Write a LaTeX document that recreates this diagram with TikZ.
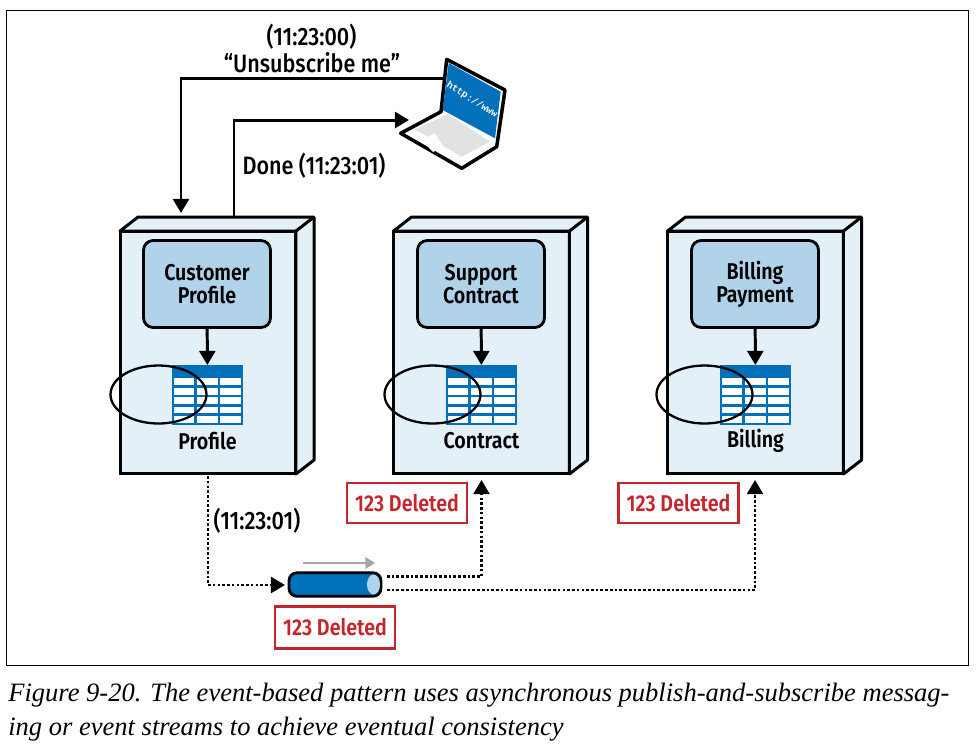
\documentclass[tikz,border=0pt]{standalone}
\usepackage{fontspec}
\setmainfont{Fira Sans}[BoldFont=* SemiBold,BoldFeatures={FakeStretch=0.86}]
\newfontfamily\notefont{Fira Sans Medium}[FakeStretch=0.86]
\newfontfamily\capfont{Liberation Serif}
\newfontfamily\urlfont{Liberation Mono}
\usetikzlibrary{arrows.meta,shapes.geometric}
\definecolor{boxblue}{HTML}{E3F0F8}
\definecolor{modblue}{HTML}{B0D3E9}
\definecolor{dbblue}{HTML}{0070BA}
\definecolor{eventred}{HTML}{C4262E}
\definecolor{kbgrey}{HTML}{E2E2E2}
\tikzset{
    flow/.style={line width=1.7pt,-{Triangle[length=8pt,width=9pt]}},
    dots/.style={line width=1.6pt,dash pattern=on 1.5pt off 1.2pt},
    dotflow/.style={dots,-{Triangle[length=8pt,width=9pt,sep=0pt]}},
    svcbox/.style={draw,line width=1.7pt,fill=boxblue,minimum width=3.52cm,minimum height=4.86cm,inner sep=0pt,outer sep=0pt},
    svcside/.style={draw,line width=1.7pt,line join=round,fill=boxblue},
    modbox/.style={draw,line width=1.6pt,fill=modblue,rounded corners=5.5pt,minimum width=2.54cm,minimum height=1.74cm,align=center,inner sep=0pt,font=\bfseries\fontsize{13}{13.2}\selectfont,execute at begin node=\rule{0pt}{15pt}},
    dbtable/.style={fill=dbblue,minimum width=1.42cm,minimum height=1.2cm,inner sep=0pt,outer sep=0pt},
    lbl/.style={font=\bfseries\fontsize{13}{14.5}\selectfont,align=center,inner sep=0pt},
    note/.style={font=\notefont\fontsize{14.3}{15}\selectfont,align=center,inner sep=0pt},
    ring/.style={draw,ellipse,line width=1.3pt,minimum width=1.92cm,minimum height=1.16cm,inner sep=0pt},
    redbox/.style={draw=eventred,line width=1.5pt,fill=white,text=eventred,minimum width=2.4cm,minimum height=.8cm,inner sep=0pt,font=\bfseries\fontsize{13}{13}\selectfont},
}
\newcommand{\dbcells}[1]{
    \foreach \col in {-33.5,-10.2,12.7}
        \foreach \row in {-16.7,-7.3,2.1,11.5,20.9}
            \fill[white,shift={(#1.center)}] (\col,\row) rectangle ++(20.4,6.8);
}
\begin{document}
\begin{tikzpicture}[x=0.02cm,y=-0.02cm]
    \useasboundingbox (0,0) rectangle (977,755);
    \fill[white] (0,0) rectangle (977,755);
    \draw[line width=.5pt] (6,10) rectangle (968,665);

    % services
    \node[svcbox] (profile) at (208,352.5) {};
    \node[svcbox] (contract) at (481.5,352.5) {};
    \node[svcbox] (billing) at (755.5,352.5) {};
    \foreach \svc in {profile,contract,billing} {
        \draw[svcside] (\svc.north west) -- ++(18,-14) -- ++(176,0) -- ++(0,243) -- (\svc.south east) -- (\svc.north east) -- cycle;
        \draw[line width=1.7pt] (\svc.north east) -- ++(18,-14);
    }
    \node[modbox] (custprofile) at (207,284) {Customer\\Profile};
    \node[modbox] (support) at (481,284) {Support\\Contract};
    \node[modbox] (payment) at (755,284) {Billing\\Payment};

    \node[dbtable] (profiledb) at (207.5,395) {};
    \node[dbtable] (contractdb) at (481.5,395) {};
    \node[dbtable] (billingdb) at (755.5,395) {};
    \dbcells{profiledb}
    \dbcells{contractdb}
    \dbcells{billingdb}
    \draw[flow] (custprofile) -- (profiledb);
    \draw[flow] (support) -- (contractdb);
    \draw[flow] (payment) -- (billingdb);

    \node[lbl] (profilelbl) at (207.5,441) {Profile};
    \node[lbl] (contractlbl) at (481.5,441) {Contract};
    \node[lbl] (billinglbl) at (755.5,441) {Billing};

    \node[ring] (profilering) at (158.5,394.5) {};
    \node[ring] (contractring) at (432.5,394.5) {};
    \node[ring] (billingring) at (704.5,394.5) {};

    % laptop
    \draw[line width=2pt,line join=round,fill=white] (446.7,59.3) -- (505,90) -- (496.7,146.7) -- (461.7,168.3) -- (400.7,133.3) -- (441,111.7) -- cycle;
    \fill[dbblue] (448.7,63) -- (500.7,91.7) -- (495,138.3) -- (442.7,110) -- cycle;
    \fill[kbgrey] (415,129.3) -- (448.3,114) -- (490,141.7) -- (461.7,156.7) -- cycle;
    \fill[white] (421.7,140) -- (435,133.5) -- (443.5,147) -- (433,152) -- cycle;
    \node[text=white,rotate=-32,inner sep=0pt,font=\urlfont\bfseries\fontsize{5.5}{6}\selectfont] (url) at (472,100) {http://www};
    \coordinate (laptopout) at (442.5,78);
    \coordinate (laptopin) at (409,120);

    % request and reply
    \coordinate (profiletop) at (181,213);
    \coordinate (donestart) at (234,217);
    \draw[flow] (laptopout) -| (profiletop);
    \draw[flow] (donestart) |- (laptopin);
    \node[note] (reqtime) at (311.5,37) {(11:23:00)};
    \node[note] (reqtext) at (312,63) {“Unsubscribe me”};
    \node[note] (done) at (314,166) {Done (11:23:01)};
    \node[note] (pubtime) at (257,521) {(11:23:01)};

    % event stream
    \node[draw,line width=1.6pt,fill=dbblue,rounded corners=4.5pt,minimum width=1.84cm,minimum height=.47cm,inner sep=0pt] (stream) at (335,584.5) {};
    \fill[modblue] (373.5,584.5) ellipse (6.5 and 10);
    \draw[line width=1.3pt,draw=gray!70,-{Triangle[length=5.5pt,width=6.5pt]}] (303,563) -- (375,563);
    \coordinate (pubstart) at (208,476);
    \coordinate (contractin) at (481.5,480);
    \coordinate (billingin) at (755,480);
    \coordinate (streamin) at (285,585);
    \coordinate (contractout) at (387,576.5);
    \coordinate (billingout) at (387,590);
    \draw[dotflow] (pubstart) |- (streamin);
    \draw[dotflow] (contractout) -| (contractin);
    \draw[dotflow] (billingout) -| (billingin);

    \node[redbox] (contractev) at (407,503) {123 Deleted};
    \node[redbox] (billingev) at (678.5,503) {123 Deleted};
    \node[redbox,minimum height=.84cm] (streamev) at (335,627.5) {123 Deleted};

    % caption
    \node[anchor=base west,inner sep=0pt,font=\capfont\itshape\fontsize{15.1}{15}\selectfont] (capa) at (8,701) {Figure 9-20. The event-based pattern uses asynchronous publish-and-subscribe messag-};
    \node[anchor=base west,inner sep=0pt,font=\capfont\itshape\fontsize{15.1}{15}\selectfont] (capb) at (8,735) {ing or event streams to achieve eventual consistency};
\end{tikzpicture}
\end{document}
